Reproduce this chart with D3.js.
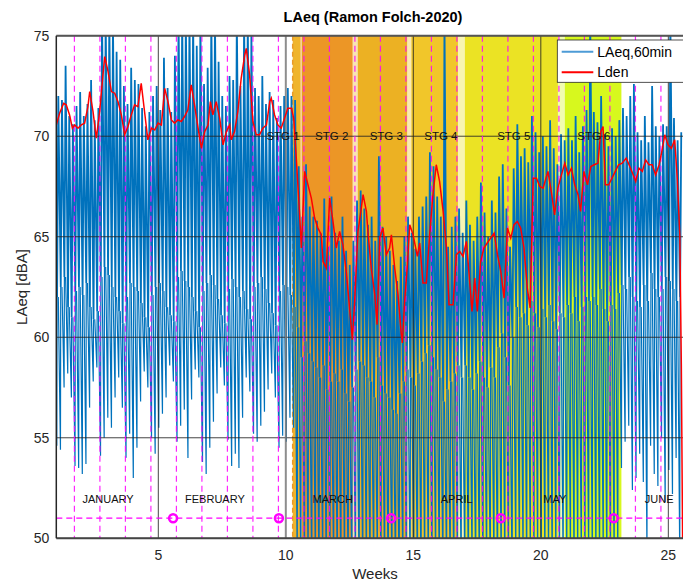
<!DOCTYPE html>
<html>
<head>
<meta charset="utf-8">
<script src="https://cdn.jsdelivr.net/npm/d3@7"></script>
<style>
  body { margin: 0; background: #fff; }
  text { font-family: "Liberation Sans", Arial, Helvetica, sans-serif; }
</style>
</head>
<body>
<svg id="chart" width="683" height="581"></svg>
<script>
// ---- data ----
// y ticks / x ticks
const yTicks = [50, 55, 60, 65, 70, 75];
const xTicks = [5, 10, 15, 20, 25];

// lockdown stages (in weeks)
const stageNames = ["STG 1", "STG 2", "STG 3", "STG 4", "STG 5", "STG 6"];
const stageStart = [10.27, 10.60, 12.82, 14.92, 17.02, 20.94];
const stageEnd   = [10.60, 12.62, 14.76, 16.75, 20.67, 23.16];
const stageLabelAt = [9.89, 11.80, 13.94, 16.08, 18.94, 22.08];
const stageColors = ["#efb42c", "#ec9626", "#ecb123", "#f1c62a", "#ebe324", "#d7f81e"];

// months
const monthNames = ["JANUARY", "FEBRUARY", "MARCH", "APRIL", "MAY", "JUNE"];
const monthLabelAt = [3.03, 7.22, 11.84, 16.70, 20.55, 24.64];
const monthStartAt = [5.58, 9.73, 14.13, 18.43, 22.86];

// mondays (weekly dashed lines)
const mondays = [1.71, 2.71, 3.71, 4.71, 5.71, 6.71, 7.71, 8.71, 9.71, 10.71, 11.71, 12.71,
  13.71, 14.71, 15.71, 16.71, 17.71, 18.71, 19.71, 20.71, 21.71, 22.71, 23.71, 24.71];

// LAeq,60min per day (day 0 = 1 Jan): night minimum, usual level, daily maximum
const laeqLow = [
  54.6, 54.4, 57.5, 58.2, 57.0, 53.6, 53.5,
  53.2, 53.7, 56.5, 57.8, 58.5, 54.1, 55.0,
  56.0, 55.5, 57.0, 58.0, 56.5, 54.0, 55.2,
  53.0, 54.5, 56.8, 58.3, 57.5, 55.0, 54.2,
  55.5, 56.2, 57.0, 58.6, 57.8, 54.8, 55.6,
  56.4, 54.0, 56.9, 58.4, 58.0, 53.8, 53.2,
  54.5, 55.8, 57.2, 58.5, 57.6, 54.9, 53.6,
  54.2, 53.5, 56.0, 58.0, 57.3, 55.2, 54.8,
  55.6, 56.3, 57.4, 58.2, 57.0, 54.5, 55.1,
  54.8, 56.0, 55.5, 48.5, 48.0, 48.6, 48.2,
  47.8, 48.4, 47.6, 48.8, 47.5, 48.0, 48.3,
  48.1, 47.7, 48.5, 47.9, 48.2, 48.6, 47.8,
  48.0, 48.4, 47.6, 48.2, 48.8, 47.9, 48.1,
  47.5, 48.3, 48.0, 47.7, 48.5, 48.2, 47.9,
  48.6, 48.0, 47.8, 48.4, 48.1, 47.6, 48.3,
  48.2, 47.9, 48.5, 48.0, 47.7, 48.4, 48.1,
  48.3, 47.8, 48.6, 48.0, 48.2, 47.9, 48.5,
  48.1, 48.4, 47.7, 48.3, 48.0, 48.6, 47.8,
  48.8, 48.2, 48.5, 48.0, 48.7, 48.3, 48.9,
  49.0, 48.4, 48.7, 48.2, 48.9, 48.5, 48.1,
  48.6, 48.9, 48.3, 48.8, 48.5, 48.2, 48.7,
  49.0, 48.6, 48.4, 48.9, 48.2, 48.8, 48.5,
  49.0, 53.5, 54.8, 55.6, 52.4, 53.0, 54.2,
  52.8, 49.2, 54.6, 53.2, 52.6, 55.0, 51.8,
  53.4, 52.2, 54.0, 49.0
];
const laeqBody = [
  62.0, 62.5, 63.0, 61.5, 61.0, 62.3, 62.5,
  62.1, 62.7, 61.5, 60.9, 61.3, 63.0, 63.5,
  63.1, 62.5, 62.0, 61.3, 60.7, 62.0, 62.7,
  62.5, 62.3, 61.7, 61.0, 60.5, 62.1, 62.5,
  62.7, 62.3, 61.5, 61.1, 60.8, 63.0, 63.3,
  62.8, 62.5, 62.0, 61.3, 60.5, 62.3, 62.7,
  63.1, 62.6, 61.9, 61.1, 60.7, 62.4, 62.9,
  62.5, 62.0, 62.3, 61.4, 60.9, 62.5, 62.7,
  63.0, 62.4, 61.7, 61.2, 60.6, 62.3, 62.6,
  62.5, 62.1, 61.5, 60.5, 59.0, 59.8, 59.2,
  58.8, 58.5, 58.0, 58.6, 57.4, 57.8, 58.2,
  57.8, 58.4, 57.2, 56.8, 57.5, 58.4, 58.8,
  58.6, 58.0, 57.8, 57.0, 59.0, 57.6, 57.2,
  57.0, 56.4, 56.2, 57.2, 57.8, 58.4, 58.0,
  57.6, 58.2, 58.8, 59.2, 59.6, 59.0, 58.4,
  58.0, 56.8, 57.4, 57.8, 58.2, 58.6, 58.0,
  58.6, 58.0, 57.4, 58.2, 58.8, 58.0, 57.5,
  58.5, 58.0, 59.5, 60.2, 59.0, 57.6, 60.0,
  61.5, 61.0, 61.2, 60.6, 61.8, 61.2, 60.5,
  61.4, 61.0, 61.6, 60.8, 60.4, 61.2, 61.0,
  61.6, 61.2, 62.0, 60.8, 61.5, 62.0, 61.8,
  62.0, 61.6, 62.4, 61.4, 60.8, 61.6, 61.4,
  62.2, 62.6, 62.4, 63.0, 62.0, 61.8, 61.5,
  62.6, 61.8, 63.2, 62.4, 62.0, 62.4, 63.0,
  62.8, 62.4, 61.8, 62.0
];
const laeqHigh = [
  72.0, 71.8, 73.5, 71.0, 70.6, 71.5, 72.2,
  71.0, 71.6, 72.8, 70.8, 71.4, 76.0, 76.0,
  76.0, 75.8, 74.2, 73.8, 72.5, 71.6, 73.4,
  72.8, 72.6, 71.4, 70.5, 71.2, 72.0, 72.5,
  71.3, 73.9, 72.4, 71.2, 74.0, 76.0, 76.0,
  76.0, 76.0, 76.0, 74.5, 76.0, 72.6, 73.4,
  76.0, 76.0, 73.7, 72.0, 71.5, 73.0, 72.8,
  76.0, 72.5, 76.0, 76.0, 75.2, 72.4, 72.0,
  73.0, 71.6, 72.2, 71.8, 70.9, 71.5, 72.0,
  72.4, 72.0, 71.8, 68.5, 66.0, 68.6, 66.5,
  66.0, 65.8, 65.2, 66.9, 64.5, 67.0, 65.2,
  64.8, 66.0, 64.3, 63.6, 64.8, 66.8, 67.3,
  66.4, 65.6, 66.0, 64.8, 69.0, 65.5, 65.0,
  64.3, 63.6, 62.8, 64.0, 65.0, 66.0, 65.2,
  64.4, 66.0, 66.5, 67.0, 69.2, 68.5, 67.0,
  66.0, 76.0, 64.5, 65.5, 66.0, 66.4, 65.2,
  66.8, 65.6, 64.8, 66.0, 67.7, 66.2, 65.0,
  66.8, 66.2, 68.0, 68.6, 66.4, 64.5, 68.4,
  70.6, 69.0, 69.4, 68.7, 71.0, 70.2, 69.2,
  70.0, 69.5, 70.8, 69.4, 68.6, 70.1, 69.8,
  70.4, 69.8, 71.0, 69.2, 70.5, 71.3, 76.0,
  71.2, 70.7, 72.0, 70.1, 69.5, 70.4, 70.0,
  70.8, 71.4, 71.0, 72.0, 72.6, 70.2, 69.8,
  71.0, 69.7, 72.5, 70.5, 70.0, 70.6, 70.5,
  76.0, 70.9, 69.8, 70.2
];

// Lden (week, dBA)
const ldenWeek = [
  1.00, 1.13, 1.29, 1.39, 1.52, 1.63, 1.72, 1.85, 1.98, 2.11, 2.24, 2.31, 2.44, 2.57, 2.70,
  2.83, 2.90, 3.03, 3.16, 3.29, 3.42, 3.55, 3.68, 3.81, 3.94, 4.07, 4.20, 4.33, 4.46, 4.59,
  4.73, 4.86, 4.99, 5.12, 5.25, 5.38, 5.51, 5.64, 5.77, 5.90, 6.03, 6.16, 6.29, 6.42, 6.56,
  6.69, 6.82, 6.95, 7.04, 7.14, 7.27, 7.41, 7.54, 7.67, 7.80, 7.86, 7.99, 8.12, 8.25, 8.39,
  8.45, 8.58, 8.71, 8.84, 8.97, 9.10, 9.24, 9.37, 9.43, 9.56, 9.69, 9.82, 9.95, 10.08, 10.22,
  10.31, 10.41, 10.52, 10.61, 10.74, 10.87, 11.00, 11.13, 11.26, 11.39, 11.46, 11.59, 11.72, 11.85, 11.98,
  12.11, 12.24, 12.37, 12.50, 12.61, 12.70, 12.83, 12.96, 13.03, 13.16, 13.22, 13.35, 13.49, 13.58, 13.68,
  13.81, 13.94, 14.07, 14.14, 14.27, 14.40, 14.53, 14.57, 14.66, 14.77, 14.86, 14.99, 15.16, 15.25, 15.38,
  15.51, 15.64, 15.77, 15.90, 16.03, 16.17, 16.30, 16.40, 16.56, 16.69, 16.82, 16.95, 17.08, 17.19, 17.30,
  17.41, 17.51, 17.64, 17.77, 17.90, 18.03, 18.17, 18.30, 18.43, 18.56, 18.69, 18.82, 18.95, 19.08, 19.21,
  19.34, 19.47, 19.58, 19.70, 19.83, 19.96, 20.09, 20.28, 20.41, 20.54, 20.67, 20.81, 20.94, 21.07, 21.20,
  21.33, 21.46, 21.56, 21.69, 21.83, 21.96, 22.09, 22.24, 22.35, 22.44, 22.53, 22.66, 22.79, 22.92, 23.05,
  23.19, 23.35, 23.49, 23.62, 23.72, 23.85, 23.98, 24.11, 24.24, 24.37, 24.50, 24.64, 24.77, 24.86, 24.99,
  25.12, 25.25, 25.35, 25.45, 25.51, 25.57
];
const ldenDb = [
  70.56, 71.14, 71.64, 71.56, 71.06, 70.40, 70.56, 70.40, 70.56, 70.65, 71.47, 72.22, 71.23, 69.90, 71.23,
  73.05, 73.96, 73.21, 72.22, 72.14, 71.72, 71.06, 70.07, 70.48, 71.06, 71.56, 71.47, 72.63, 71.23, 69.82,
  70.40, 70.31, 70.65, 70.56, 72.38, 71.72, 70.81, 70.65, 70.81, 70.73, 70.98, 71.31, 72.55, 71.56, 70.40,
  69.40, 70.23, 70.56, 71.72, 71.06, 71.72, 70.89, 69.57, 70.23, 70.56, 69.82, 70.23, 71.23, 72.88, 74.04,
  74.37, 73.05, 70.73, 70.07, 70.07, 70.40, 70.56, 71.72, 71.89, 71.06, 70.56, 70.40, 70.89, 71.39, 71.39,
  70.89, 68.91, 66.59, 64.44, 68.25, 67.58, 66.92, 65.93, 65.43, 65.10, 63.77, 63.44, 66.92, 65.76, 64.44,
  65.26, 64.60, 63.28, 61.46, 59.88, 61.79, 65.26, 66.42, 67.09, 66.26, 65.26, 63.44, 62.12, 60.63, 64.93,
  65.43, 64.11, 64.44, 65.10, 63.44, 62.12, 60.13, 59.72, 61.79, 63.61, 65.60, 65.10, 64.02, 64.69, 62.70,
  62.70, 65.10, 67.09, 68.58, 67.75, 66.26, 64.44, 61.62, 61.62, 64.11, 64.27, 64.02, 64.77, 63.11, 61.29,
  62.95, 61.29, 63.77, 64.44, 64.69, 64.93, 65.18, 64.11, 63.28, 61.95, 65.43, 64.93, 65.60, 65.76, 65.43,
  64.44, 62.45, 61.46, 67.91, 67.91, 67.50, 67.42, 68.25, 67.25, 66.09, 67.42, 68.08, 68.66, 68.08, 68.41,
  67.58, 67.09, 66.26, 68.25, 67.58, 68.49, 68.58, 68.66, 70.23, 70.48, 67.58, 67.58, 67.91, 68.25, 68.58,
  68.66, 68.91, 68.49, 68.08, 67.75, 68.41, 68.25, 68.82, 68.58, 68.58, 68.08, 68.58, 69.40, 70.07, 69.57,
  69.40, 69.82, 67.91, 65.10, 58.64, 48.00
];

// ---- layout ----
const svg = d3.select("#chart");
const pL = 56.3, pR = 690, pT = 35.7, pB = 538.3;
const x = d3.scaleLinear().domain([1, 25.85]).range([pL, pR]);
const y = d3.scaleLinear().domain([50, 75]).range([pB, pT]);
const ink = "#262626";

svg.append("defs").append("clipPath").attr("id", "plot")
  .append("rect").attr("x", pL).attr("y", pT)
  .attr("width", pR - pL).attr("height", pB - pT);

const plot = svg.append("g").attr("clip-path", "url(#plot)");

// stage bands
stageNames.forEach((s, i) => {
  plot.append("rect")
    .attr("x", x(stageStart[i])).attr("y", pT)
    .attr("width", x(stageEnd[i]) - x(stageStart[i]))
    .attr("height", pB - pT)
    .attr("fill", stageColors[i]);
  // pale strip before the next stage
  if (i < stageNames.length - 1 && stageStart[i + 1] > stageEnd[i]) {
    plot.append("rect")
      .attr("x", x(stageEnd[i])).attr("y", pT)
      .attr("width", x(stageStart[i + 1]) - x(stageEnd[i]))
      .attr("height", pB - pT)
      .attr("fill", stageColors[i + 1]).attr("opacity", 0.35);
  }
});
plot.append("line")
  .attr("x1", x(stageStart[0])).attr("x2", x(stageStart[0]))
  .attr("y1", pT).attr("y2", pB)
  .attr("stroke", "#e89a2a").attr("stroke-width", 1.5).attr("stroke-dasharray", "5,3");
plot.append("line")
  .attr("x1", x(stageEnd[0])).attr("x2", x(stageEnd[0]))
  .attr("y1", pT).attr("y2", pB)
  .attr("stroke", "#fff").attr("stroke-width", 1).attr("opacity", 0.8);

const line = d3.line().x(p => x(p[0])).y(p => y(p[1]));

// LAeq,60min: daytime zigzag between usual level and daily maximum
const dayPts = [];
laeqHigh.forEach((hi, d) => {
  dayPts.push([1 + (d + 0.22) / 7, laeqBody[d]]);
  dayPts.push([1 + (d + 0.55) / 7, hi]);
});
plot.append("path")
  .attr("d", line(dayPts))
  .attr("fill", "none")
  .attr("stroke", "#0072bd")
  .attr("stroke-width", 1.8);

// night dips
plot.selectAll(".dip").data(laeqLow).join("path")
  .attr("d", (lo, d) => line([
    [1 + (d - 0.45) / 7, laeqHigh[d - 1] !== undefined ? laeqBody[d - 1] : laeqBody[d]],
    [1 + (d + 0.14) / 7, lo],
    [1 + (d + 0.22) / 7, laeqBody[d]]
  ]))
  .attr("fill", "none")
  .attr("stroke", "#0072bd")
  .attr("stroke-width", 1.2);

// grid
plot.selectAll(".gy").data(yTicks).join("line")
  .attr("x1", pL).attr("x2", pR)
  .attr("y1", d => y(d)).attr("y2", d => y(d))
  .attr("stroke", ink).attr("stroke-width", 1).attr("opacity", 0.85);
plot.selectAll(".gx").data(xTicks).join("line")
  .attr("x1", d => x(d)).attr("x2", d => x(d))
  .attr("y1", pT).attr("y2", pB)
  .attr("stroke", d => d === 10 ? "#7a7a7a" : ink)
  .attr("stroke-width", d => d === 10 ? 2 : 1).attr("opacity", 0.85);

// weekly dashed lines, month markers
plot.selectAll(".mon").data(mondays).join("line")
  .attr("x1", d => x(d)).attr("x2", d => x(d))
  .attr("y1", pT).attr("y2", pB)
  .attr("stroke", "#ff00ff").attr("stroke-width", 1.2)
  .attr("stroke-dasharray", "6,4").attr("opacity", 0.85);
plot.append("line")
  .attr("x1", pL).attr("x2", pR)
  .attr("y1", y(51)).attr("y2", y(51))
  .attr("stroke", "#ff00ff").attr("stroke-width", 1.2)
  .attr("stroke-dasharray", "6,4");
plot.selectAll(".ms").data(monthStartAt).join("circle")
  .attr("cx", d => x(d)).attr("cy", y(51)).attr("r", 4)
  .attr("fill", "none").attr("stroke", "#ff00ff").attr("stroke-width", 2.5);

// Lden
plot.append("path")
  .attr("d", line(ldenWeek.map((w, i) => [w, ldenDb[i]])))
  .attr("fill", "none")
  .attr("stroke", "#ff0000")
  .attr("stroke-width", 1.5);

// stage and month labels
svg.selectAll(".stg").data(stageNames).join("text")
  .attr("x", (d, i) => x(stageLabelAt[i])).attr("y", y(70))
  .attr("dy", "0.35em").attr("text-anchor", "middle")
  .attr("font-size", 11.5).attr("fill", "#111")
  .text(d => d);
svg.selectAll(".month").data(monthNames).join("text")
  .attr("x", (d, i) => x(monthLabelAt[i])).attr("y", y(51.93))
  .attr("dy", "0.35em").attr("text-anchor", "middle")
  .attr("font-size", 11).attr("fill", "#111")
  .text(d => d);

// axes frame
svg.append("line").attr("x1", pL).attr("x2", pR).attr("y1", pT).attr("y2", pT)
  .attr("stroke", "#555").attr("stroke-width", 2);
svg.append("line").attr("x1", pL).attr("x2", pR).attr("y1", pB).attr("y2", pB)
  .attr("stroke", "#444").attr("stroke-width", 2);
svg.append("line").attr("x1", pL).attr("x2", pL).attr("y1", pT).attr("y2", pB)
  .attr("stroke", ink).attr("stroke-width", 1.5);

// tick labels
svg.selectAll(".yt").data(yTicks).join("text")
  .attr("x", pL - 7).attr("y", d => y(d)).attr("dy", "0.35em")
  .attr("text-anchor", "end").attr("font-size", 14).attr("fill", ink)
  .text(d => d);
svg.selectAll(".xt").data(xTicks).join("text")
  .attr("x", d => x(d)).attr("y", pB + 17).attr("dy", "0.35em")
  .attr("text-anchor", "middle").attr("font-size", 14).attr("fill", ink)
  .text(d => d);

// axis titles
svg.append("text").attr("x", 375).attr("y", 574).attr("dy", "0.35em")
  .attr("text-anchor", "middle").attr("font-size", 15).attr("fill", ink)
  .text("Weeks");
svg.append("text")
  .attr("transform", `translate(22,${(pT + pB) / 2}) rotate(-90)`)
  .attr("dy", "0.35em").attr("text-anchor", "middle")
  .attr("font-size", 15).attr("fill", ink)
  .text("LAeq [dBA]");
svg.append("text").attr("x", 373).attr("y", 17).attr("dy", "0.35em")
  .attr("text-anchor", "middle").attr("font-size", 14.5).attr("font-weight", "bold")
  .attr("fill", "#000")
  .text("LAeq (Ramon Folch-2020)");

// legend
const lg = svg.append("g");
lg.append("rect").attr("x", 557.3).attr("y", 40).attr("width", 140).attr("height", 42.3)
  .attr("fill", "#fff").attr("stroke", ink).attr("stroke-width", 0.8);
const legendItems = [["LAeq,60min", "#4d9bd6"], ["Lden", "#ff0000"]];
legendItems.forEach((it, i) => {
  const ly = 51.7 + i * 20.6;
  lg.append("line").attr("x1", 561.7).attr("x2", 593.3).attr("y1", ly).attr("y2", ly)
    .attr("stroke", it[1]).attr("stroke-width", 2);
  lg.append("text").attr("x", 597.3).attr("y", ly).attr("dy", "0.35em")
    .attr("font-size", 14).attr("fill", "#000").text(it[0]);
});
</script>
</body>
</html>
